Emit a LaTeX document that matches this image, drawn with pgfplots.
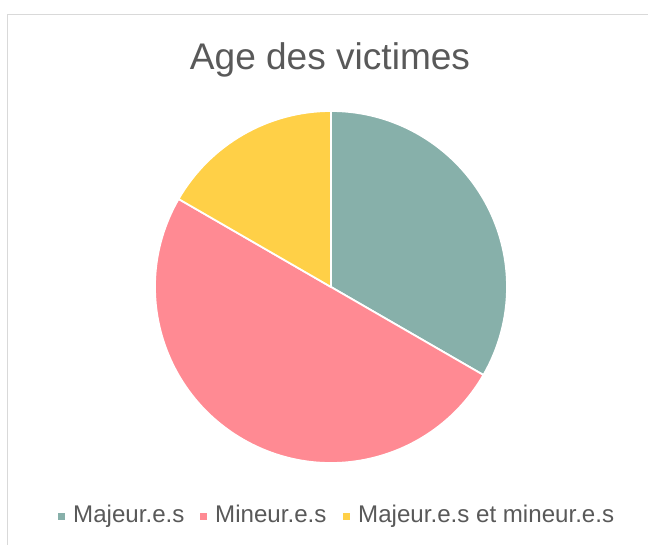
\documentclass[border=0pt]{standalone}
\usepackage{pgfplots}
\pgfplotsset{compat=1.18}
\usepackage{pgfplotstable}
\usepackage{fontspec}
\setmainfont{Liberation Sans}
\definecolor{cA}{HTML}{87B0AA}
\definecolor{cB}{HTML}{FF8A93}
\definecolor{cC}{HTML}{FFD047}
\definecolor{txt}{HTML}{595959}
\definecolor{framec}{HTML}{D9D9D9}

\pgfplotstableread{
label value
Majeur 4
Mineur 6
Both 2
}\piedata

\pgfplotstablegetelem{0}{value}\of\piedata \let\vA\pgfplotsretval
\pgfplotstablegetelem{1}{value}\of\piedata \let\vB\pgfplotsretval
\pgfplotstablegetelem{2}{value}\of\piedata \let\vC\pgfplotsretval
\pgfmathsetmacro\tot{\vA+\vB+\vC}
\pgfmathsetmacro\aA{90-360*\vA/\tot}
\pgfmathsetmacro\aB{\aA-360*\vB/\tot}
\pgfmathsetmacro\aC{\aB-360*\vC/\tot}

\begin{document}
\begin{tikzpicture}[x=1bp,y=1bp]
\path[use as bounding box] (0,0) rectangle (648,545);
\begin{scope}
\clip (0,0) rectangle (648,545);
\draw[framec, line width=1.5bp] (7.5,-5) -- (7.5,530.5) -- (660,530.5);
\end{scope}
\node[txt, font=\fontsize{37.2}{40}\selectfont, anchor=base] at (330,475) {Age des victimes};
\begin{axis}[at={(155bp,82bp)}, anchor=south west, width=352bp, height=352bp,
  scale only axis, xmin=-1, xmax=1, ymin=-1, ymax=1, hide axis, clip=false]
\addplot[draw=none] coordinates {(0,0)};
\filldraw[fill=cA, draw=white, line width=1.8bp, line join=round] (axis cs:0,0) -- (axis cs:0,1) arc[start angle=90, end angle=\aA, radius=176bp] -- cycle;
\filldraw[fill=cB, draw=white, line width=1.8bp, line join=round] (axis cs:0,0) -- (axis cs:{cos(\aA)},{sin(\aA)}) arc[start angle=\aA, end angle=\aB, radius=176bp] -- cycle;
\filldraw[fill=cC, draw=white, line width=1.8bp, line join=round] (axis cs:0,0) -- (axis cs:{cos(\aB)},{sin(\aB)}) arc[start angle=\aB, end angle=\aC, radius=176bp] -- cycle;
\end{axis}
\begin{scope}[font=\fontsize{24.2}{26}\selectfont]
\fill[cA] (58,25) rectangle (65,32);
\node[txt, anchor=base west, inner sep=0] at (73,22) {Majeur.e.s};
\fill[cB] (200,25) rectangle (207,32);
\node[txt, anchor=base west, inner sep=0] at (215,22) {Mineur.e.s};
\fill[cC] (343,25) rectangle (350,32);
\node[txt, anchor=base west, inner sep=0] at (358,22) {Majeur.e.s et mineur.e.s};
\end{scope}
\end{tikzpicture}
\end{document}
